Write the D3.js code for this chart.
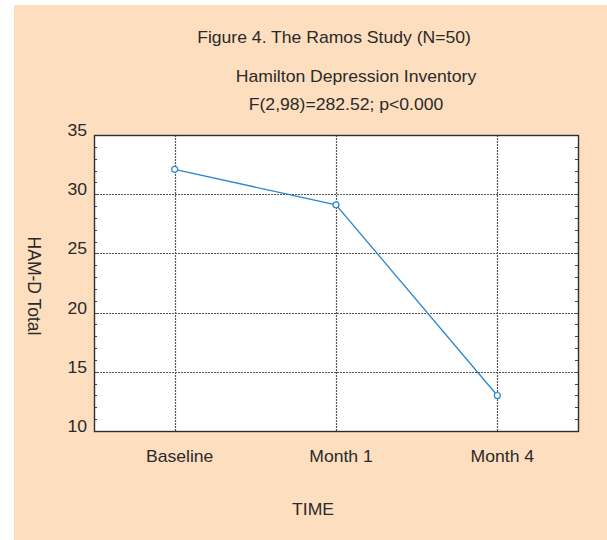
<!DOCTYPE html>
<html>
<head>
<meta charset="utf-8">
<script src="https://cdn.jsdelivr.net/npm/d3@7"></script>
<style>
  body { margin: 0; background: #fff; }
  text { font-family: "Liberation Sans", Arial, sans-serif; fill: #2a2a2a; }
</style>
</head>
<body>
<div id="chart"></div>
<script>
// data
var timepoints = ["Baseline", "Month 1", "Month 4"];
var hamdTotal = [32.1, 29.1, 13.0];
var yTicks = [10, 15, 20, 25, 30, 35];
var titleLines = ["Figure 4. The Ramos Study (N=50)", "Hamilton Depression Inventory", "F(2,98)=282.52; p<0.000"];

var width = 607, height = 540;
var SX = 1.1; // source text looks a bit stretched sideways

var svg = d3.select("#chart").append("svg").attr("width", width).attr("height", height);

svg.append("rect").attr("x", 14).attr("y", 5).attr("width", width - 14).attr("height", height - 5)
  .attr("fill", "#fddebf");

var plot = { left: 94, top: 135, right: 578, bottom: 431 };

var x = d3.scalePoint().domain(timepoints).range([plot.left, plot.right]).padding(0.5);
var y = d3.scaleLinear().domain([10, 35]).range([plot.bottom, plot.top]);

function label(x0, y0, s, anchor, size, rot) {
  return svg.append("text")
    .attr("transform", "translate(" + x0 + "," + y0 + ") scale(" + SX + ",1)" + (rot ? " rotate(" + rot + ")" : ""))
    .attr("text-anchor", anchor || "middle")
    .style("font-size", (size || 16) + "px")
    .text(s);
}

// plot background
svg.append("rect").attr("x", plot.left).attr("y", plot.top)
  .attr("width", plot.right - plot.left).attr("height", plot.bottom - plot.top)
  .attr("fill", "#fff");

// dotted grid
var grid = svg.append("g").attr("stroke", "#555").attr("stroke-width", 1.2).attr("stroke-dasharray", "2,1");
grid.selectAll(".gy").data(yTicks.slice(1, -1)).join("line")
  .attr("x1", plot.left).attr("x2", plot.right)
  .attr("y1", d => Math.round(y(d)) + 0.5).attr("y2", d => Math.round(y(d)) + 0.5);
grid.selectAll(".gx").data(timepoints).join("line")
  .attr("y1", plot.top).attr("y2", plot.bottom)
  .attr("x1", d => Math.round(x(d)) + 0.5).attr("x2", d => Math.round(x(d)) + 0.5);

// minor ticks inside left and right edges
var minor = d3.range(11, 35);
var tk = svg.append("g").attr("stroke", "#444").attr("stroke-width", 1);
tk.selectAll(".ml").data(minor).join("line")
  .attr("x1", plot.left).attr("x2", plot.left + 3)
  .attr("y1", d => Math.round(y(d)) + 0.5).attr("y2", d => Math.round(y(d)) + 0.5);
tk.selectAll(".mr").data(minor).join("line")
  .attr("x1", plot.right - 3).attr("x2", plot.right)
  .attr("y1", d => Math.round(y(d)) + 0.5).attr("y2", d => Math.round(y(d)) + 0.5);

// frame
svg.append("rect").attr("x", plot.left + 0.5).attr("y", plot.top + 0.5)
  .attr("width", plot.right - plot.left).attr("height", plot.bottom - plot.top)
  .attr("fill", "none").attr("stroke", "#2e2e2e").attr("stroke-width", 1.4);

// series
var pts = timepoints.map((t, i) => [x(t), y(hamdTotal[i])]);
svg.append("path").datum(pts)
  .attr("d", d3.line())
  .attr("fill", "none").attr("stroke", "#2a86cf").attr("stroke-width", 1.3);
svg.selectAll(".pt").data(pts).join("circle")
  .attr("cx", d => d[0]).attr("cy", d => d[1]).attr("r", 3)
  .attr("fill", "#fff").attr("stroke", "#2a86cf").attr("stroke-width", 1.2);

// axis labels
yTicks.forEach(v => label(87, y(v) + 1, String(v), "end"));
timepoints.forEach(t => label(x(t) + 5, 462, t));
label(313, 515, "TIME");
label(35, 286, "HAM-D Total", "middle", 17.5, 90).attr("dominant-baseline", "central");

// titles
label(334, 43, titleLines[0]);
label(356, 82, titleLines[1]);
label(346, 110, titleLines[2]);
</script>
</body>
</html>
